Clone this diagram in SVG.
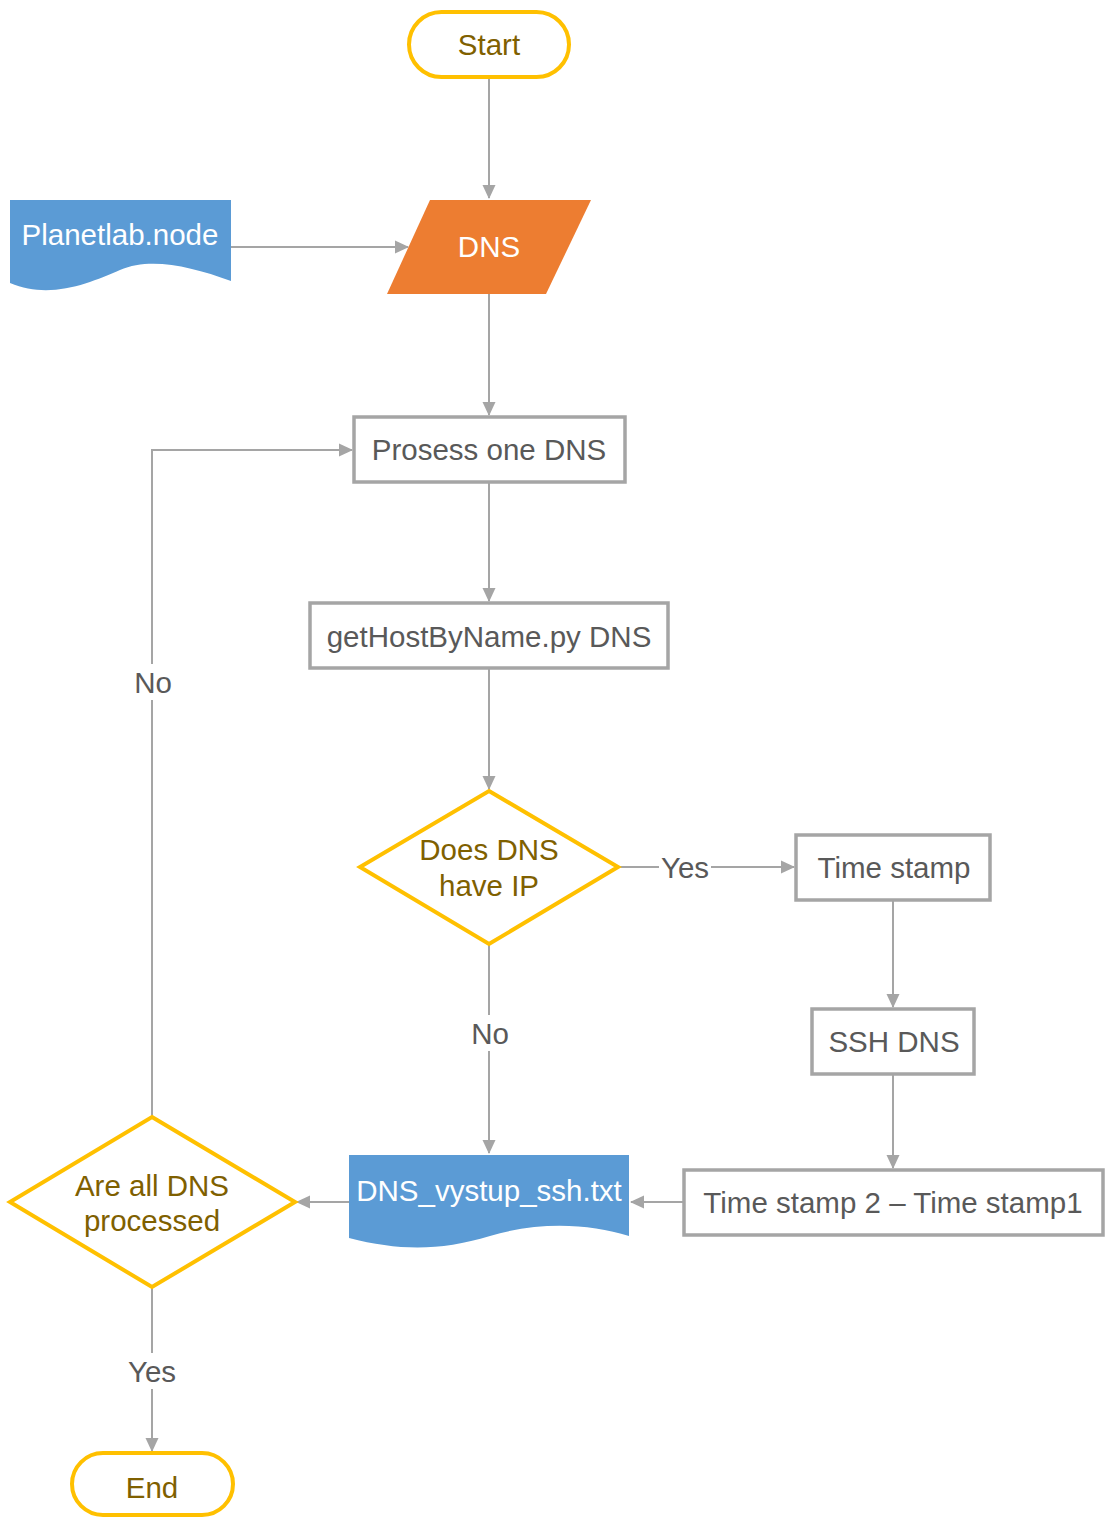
<svg xmlns="http://www.w3.org/2000/svg" width="1107" height="1517" viewBox="0 0 1107 1517">
<defs>
<marker id="arr" markerWidth="14" markerHeight="14" refX="13" refY="7" orient="auto" markerUnits="userSpaceOnUse">
<path d="M0,0.5 L14,7 L0,13.5 Z" fill="#A5A5A5"/>
</marker>
<style>
text{font-family:"Liberation Sans",Arial,sans-serif;font-size:29.5px;text-anchor:middle;dominant-baseline:central}
.term{fill:#fff;stroke:#FFC000;stroke-width:4}
.box{fill:#fff;stroke:#A5A5A5;stroke-width:3.5}
.dec{fill:#fff;stroke:#FFC000;stroke-width:4;stroke-linejoin:miter}
.doc{fill:#5B9BD5}
.gold{fill:#7F6000}
.grey{fill:#595959}
.white{fill:#fff}
.conn{fill:none;stroke:#A5A5A5;stroke-width:2;marker-end:url(#arr)}
.line{fill:none;stroke:#A5A5A5;stroke-width:2}
.lbl{fill:#595959}
</style>
</defs>
<rect width="1107" height="1517" fill="#fff"/>
<g id="connectors">
<path class="conn" d="M489,77 L489,198"/>
<path class="conn" d="M231,247 L408,247"/>
<path class="conn" d="M489,294 L489,415"/>
<path class="conn" d="M489,482 L489,601"/>
<path class="conn" d="M489,668 L489,789"/>
<path class="line" d="M618,867 L659,867"/>
<path class="conn" d="M711,867 L794,867"/>
<text class="lbl" x="685" y="867">Yes</text>
<path class="conn" d="M893,900 L893,1007"/>
<path class="conn" d="M893,1074 L893,1168"/>
<path class="conn" d="M684,1202 L631,1202"/>
<path class="line" d="M489,944 L489,1015"/>
<path class="conn" d="M489,1051 L489,1153"/>
<text class="lbl" x="490" y="1033">No</text>
<path class="conn" d="M349,1202 L297,1202"/>
<path class="line" d="M152,1117 L152,700"/>
<path class="conn" d="M152,664 L152,450 L352,450"/>
<text class="lbl" x="153" y="682">No</text>
<path class="line" d="M152,1287 L152,1353"/>
<path class="conn" d="M152,1389 L152,1451"/>
<text class="lbl" x="152" y="1371">Yes</text>
</g>
<g id="start">
<rect class="term" x="409" y="12" width="160" height="65" rx="32.5"/>
<text class="gold" x="489" y="44">Start</text>
</g>
<g id="planetlab">
<path class="doc" d="M10,200 L231,200 L231,281 C190,266 150,257 120,270 C90,283 50,300 10,283 Z"/>
<text class="white" x="120" y="234">Planetlab.node</text>
</g>
<g id="dns">
<path d="M430,200 L591,200 L546,294 L387,294 Z" fill="#ED7D31"/>
<text class="white" x="489" y="246">DNS</text>
</g>
<g id="prosess">
<rect class="box" x="354" y="417" width="271" height="65"/>
<text class="grey" x="489" y="449">Prosess one DNS</text>
</g>
<g id="gethost">
<rect class="box" x="310" y="603" width="358" height="65"/>
<text class="grey" x="489" y="636">getHostByName.py DNS</text>
</g>
<g id="haveip">
<path class="dec" d="M489,791 L618,867 L489,944 L360,867 Z"/>
<text class="gold" x="489" y="849">Does DNS</text>
<text class="gold" x="489" y="885">have IP</text>
</g>
<g id="timestamp">
<rect class="box" x="796" y="835" width="194" height="65"/>
<text class="grey" x="894" y="867">Time stamp</text>
</g>
<g id="ssh">
<rect class="box" x="812" y="1009" width="162" height="65"/>
<text class="grey" x="894" y="1041">SSH DNS</text>
</g>
<g id="diff">
<rect class="box" x="684" y="1170" width="419" height="65"/>
<text class="grey" x="893" y="1202">Time stamp 2 – Time stamp1</text>
</g>
<g id="output">
<path class="doc" d="M349,1155 L629,1155 L629,1236 C590,1224 540,1221 490,1236 C440,1251 400,1251 349,1238 Z"/>
<text class="white" x="489" y="1190">DNS_vystup_ssh.txt</text>
</g>
<g id="alldone">
<path class="dec" d="M152,1117 L295,1202 L152,1287 L10,1202 Z"/>
<text class="gold" x="152" y="1185">Are all DNS</text>
<text class="gold" x="152" y="1220">processed</text>
</g>
<g id="end">
<rect class="term" x="72" y="1453" width="161" height="62" rx="31"/>
<text class="gold" x="152" y="1487">End</text>
</g>
</svg>
